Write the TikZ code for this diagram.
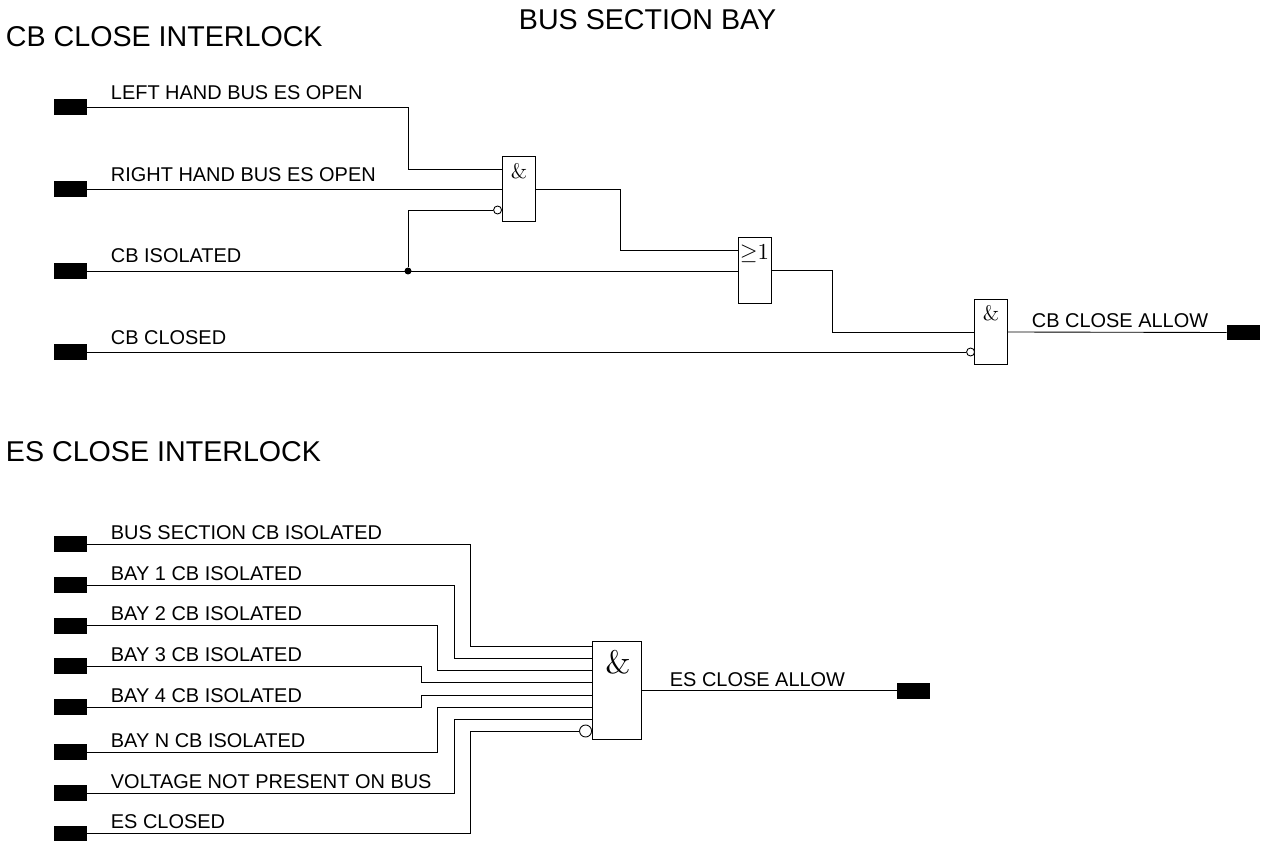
\documentclass[tikz,border=0pt]{standalone}
\usepackage{fontspec}
\setsansfont{Liberation Sans}
\usepackage{tikz}
\usetikzlibrary{calc}
\tikzset{
    terminal/.style={fill=black, minimum width=0.66cm, minimum height=0.32cm, inner sep=0pt},
    gate/.style={draw=black, inner sep=0pt},
    bubble/.style={draw=black, fill=white, circle, inner sep=0pt},
    dot/.style={fill=black, circle, minimum size=0.14cm, inner sep=0pt},
    sig/.style={right, inner sep=0pt, yshift=-0.4pt, font=\sffamily\fontsize{11.35pt}{13pt}\selectfont},
    heading/.style={right, inner sep=0pt, yshift=-0.4pt, font=\sffamily\fontsize{16.3pt}{19pt}\selectfont},
    wire/.style={line width=0.5pt}
}

\begin{document}
\begin{tikzpicture}[x=0.02cm, y=-0.02cm, wire]
    \useasboundingbox (0,0) rectangle (1261,841);

    % Headings
    \node[heading] (title) at (518.5,19) {BUS SECTION BAY};
    \node[heading] (cbhead) at (5.5,36) {CB CLOSE INTERLOCK};
    \node[heading] (eshead) at (5.5,451) {ES CLOSE INTERLOCK};

    % CB close interlock: terminals
    \node[terminal] (lhbes) at (70.5,107) {};
    \node[terminal] (rhbes) at (70.5,189) {};
    \node[terminal] (cbiso) at (70.5,271) {};
    \node[terminal] (cbcl) at (70.5,352) {};
    \node[terminal] (cballow) at (1243.5,332.5) {};

    % CB close interlock: gates
    \node[gate, minimum width=0.66cm, minimum height=1.31cm] (and1) at (518.5,189) {};
    \node[gate, minimum width=0.66cm, minimum height=1.31cm] (or1) at (754.5,270.5) {};
    \node[gate, minimum width=0.66cm, minimum height=1.31cm] (and2) at (991,332) {};
    \node[anchor=north, inner sep=0pt, scale=1.2] (and1sym) at (519,162.5) {\&};
    \node[anchor=north, inner sep=0pt, scale=1.3] (or1sym) at (754.5,244) {$\geq$1};
    \node[anchor=north, inner sep=0pt, scale=1.2] (and2sym) at (991,304.5) {\&};

    % Inverted inputs
    \node[bubble, minimum size=0.16cm, left] (and1inv) at (502,210) {};
    \node[bubble, minimum size=0.16cm, left] (and2inv) at (975,352) {};

    % Branch point on CB isolated
    \node[dot] (cbjoin) at (408,271) {};

    % CB close interlock: signal labels
    \node[sig] (lhbeslbl) at (110.5,92) {LEFT HAND BUS ES OPEN};
    \node[sig] (rhbeslbl) at (110.5,174) {RIGHT HAND BUS ES OPEN};
    \node[sig] (cbisolbl) at (110.5,255) {CB ISOLATED};
    \node[sig] (cbcllbl) at (110.5,337) {CB CLOSED};
    \node[sig] (cballowlbl) at (1031.5,320) {CB CLOSE ALLOW};

    % CB close interlock: wiring
    \coordinate (and1a) at (and1.west |- 0,169);
    \coordinate (or1a) at (or1.west |- 0,250);
    \draw (lhbes.east) -| (408,169) -- (and1a);
    \draw (rhbes.east) -- (rhbes.east -| and1.west);
    \draw (cbiso.east) -- (cbiso.east -| or1.west);
    \draw (cbjoin) |- (and1inv.west);
    \draw (and1.east) -| (620,250) -- (or1a);
    \draw (or1.east) -| (832,332) -- (and2.west);
    \draw (cbcl.east) -- (and2inv.west);
    \draw (and2.east) -- (cballow.west);

    % ES close interlock: terminals
    \node[terminal] (bsiso) at (70.5,544) {};
    \node[terminal] (bay1) at (70.5,585) {};
    \node[terminal] (bay2) at (70.5,625.5) {};
    \node[terminal] (bay3) at (70.5,666) {};
    \node[terminal] (bay4) at (70.5,707) {};
    \node[terminal] (bayn) at (70.5,752) {};
    \node[terminal] (vnp) at (70.5,793) {};
    \node[terminal] (escl) at (70.5,833.5) {};
    \node[terminal] (esallow) at (913.5,690.5) {};

    % ES close interlock: gate
    \node[gate, minimum width=0.98cm, minimum height=1.96cm] (and3) at (616.5,690.5) {};
    \node[anchor=north, inner sep=0pt, scale=1.85] (and3sym) at (618,649.5) {\&};
    \node[bubble, minimum size=0.24cm, left] (and3inv) at (592,731) {};

    % ES close interlock: signal labels
    \node[sig] (bsisolbl) at (110.5,532) {BUS SECTION CB ISOLATED};
    \node[sig] (bay1lbl) at (110.5,573) {BAY 1 CB ISOLATED};
    \node[sig] (bay2lbl) at (110.5,613) {BAY 2 CB ISOLATED};
    \node[sig] (bay3lbl) at (110.5,654) {BAY 3 CB ISOLATED};
    \node[sig] (bay4lbl) at (110.5,695) {BAY 4 CB ISOLATED};
    \node[sig] (baynlbl) at (110.5,740) {BAY N CB ISOLATED};
    \node[sig] (vnplbl) at (110.5,781) {VOLTAGE NOT PRESENT ON BUS};
    \node[sig] (escllbl) at (110.5,821) {ES CLOSED};
    \node[sig] (esallowlbl) at (669.5,679) {ES CLOSE ALLOW};

    % ES close interlock: wiring
    \draw (bsiso.east) -| (470,646) -- (and3.west |- 0,646);
    \draw (bay1.east) -| (454,658) -- (and3.west |- 0,658);
    \draw (bay2.east) -| (437,670) -- (and3.west |- 0,670);
    \draw (bay3.east) -| (421,682) -- (and3.west |- 0,682);
    \draw (bay4.east) -| (421,695) -- (and3.west |- 0,695);
    \draw (bayn.east) -| (437,707) -- (and3.west |- 0,707);
    \draw (vnp.east) -| (454,719) -- (and3.west |- 0,719);
    \draw (escl.east) -| (470,731) -- (and3inv.west);
    \draw (and3.east) -- (esallow.west);
\end{tikzpicture}
\end{document}
